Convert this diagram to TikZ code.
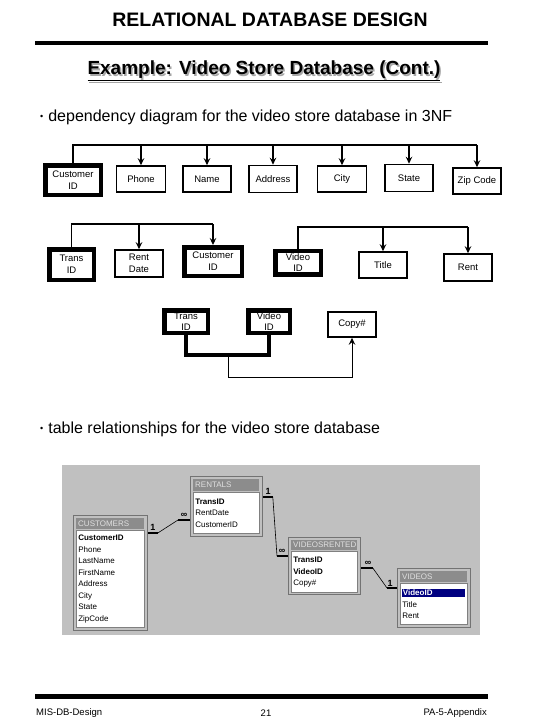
\documentclass[tikz,border=0pt]{standalone}
\usepackage{fontspec}
\setmainfont{Liberation Sans}
\usepackage{tikz}
\usetikzlibrary{arrows.meta,positioning}
\definecolor{panel}{HTML}{C0C0C0}
\definecolor{hdr}{HTML}{8C8C8C}
\definecolor{navy}{HTML}{000080}
\tikzset{
  attr/.style={draw, line width=1.6pt, minimum width=48pt, minimum height=26pt, inner sep=0pt, align=center, font=\fontsize{9.5}{12}\selectfont},
  keyattr/.style={attr, line width=4.5pt},
  tight/.style={font=\fontsize{9.5}{11}\selectfont},
  dep/.style={line width=1.6pt, -{Stealth[length=7pt,width=6.5pt,inset=2.5pt]}},
  bullet/.style={anchor=west, inner sep=0pt, font=\fontsize{16}{18}\selectfont},
  subtitle/.style={inner sep=0pt, font=\fontsize{19}{22}\selectfont\bfseries},
  foot/.style={inner sep=0pt, font=\fontsize{9.5}{11}\selectfont},
  tframe/.style={fill=panel, draw=black!55, line width=0.8pt, anchor=north west, inner sep=0pt},
  thead/.style={fill=hdr, text=black!12, anchor=north west, inner xsep=2pt, inner ysep=0pt, text width=#1, align=left, minimum height=11pt, font=\fontsize{8}{9}\selectfont},
  tbody/.style={fill=white, draw=black!50, line width=0.6pt, anchor=north west, inner xsep=2pt, inner ysep=0pt, text width=#1, align=left, font=\fontsize{8}{11.5}\selectfont},
  one/.style={line width=2pt},
  link/.style={line width=0.6pt},
  card/.style={inner sep=0pt, font=\fontsize{9}{9}\selectfont\bfseries}
}
\begin{document}
\begin{tikzpicture}[x=1pt,y=-1pt]
  \useasboundingbox (0,0) rectangle (540,720);

  \node[inner sep=0pt, font=\fontsize{19.5}{22}\selectfont\bfseries] (title) at (270,20) {RELATIONAL DATABASE DESIGN};
  \draw[line width=4pt] (35,43) -- (488,43);
  \node[subtitle, text=black!35] at (265.5,72.5) {\underline{Example: Video Store Database (Cont.)}};
  \node[subtitle] (sub) at (264,71) {\underline{Example: Video Store Database (Cont.)}};
  \node[bullet] (b1) at (40,117) {{\fontsize{9}{9}\selectfont\raisebox{2pt}{•}}\hspace{5pt}dependency diagram for the video store database in 3NF};

  \node[keyattr, minimum width=55.5pt, minimum height=29.5pt] (1) at (73,180) {Customer\\ID};
  \node[attr, minimum width=49pt] (2) at (141,179) {Phone};
  \node[attr] (3) at (207,179) {Name};
  \node[attr, minimum height=27pt] (4) at (273,179) {Address};
  \node[attr, minimum width=49pt] (5) at (342,179) {City};
  \node[attr, minimum height=27pt] (6) at (409,178) {State};
  \node[attr] (7) at (477,181) {Zip Code};

  \coordinate (top) at (0,145);
  \draw[line width=1.6pt] (1.north) |- (7.north |- top);
  \foreach \n in {2,...,7}
    \draw[dep] (\n.north |- top) -- (\n.north);

  \node[keyattr, minimum width=44.5pt, minimum height=30.5pt] (8) at (71.5,264.5) {Trans\\ID};
  \node[attr, minimum height=27pt] (9) at (139,263.5) {Rent\\Date};
  \node[keyattr, minimum width=57.5pt, minimum height=28.5pt] (10) at (213,261.5) {Customer\\ID};
  \node[keyattr, tight, minimum width=45.5pt, minimum height=23.5pt] (11) at (298,262.5) {Video\\ID};
  \node[attr] (12) at (383,265) {Title};
  \node[attr, minimum height=27pt] (13) at (468,267.5) {Rent};

  \coordinate (left) at (0,224);
  \coordinate (right) at (0,227);
  \draw[line width=1.6pt] (8.north) |- (10.north |- left);
  \foreach \n in {9,10}
    \draw[dep] (\n.north |- left) -- (\n.north);
  \draw[line width=1.6pt] (11.north) |- (13.north |- right);
  \foreach \n in {12,13}
    \draw[dep] (\n.north |- right) -- (\n.north);

  \node[keyattr, tight, minimum width=43.5pt, minimum height=22.5pt] (14) at (186,321.5) {Trans\\ID};
  \node[keyattr, tight, minimum width=41.5pt, minimum height=22.5pt] (15) at (269,321.5) {Video\\ID};
  \node[attr, minimum height=25pt] (16) at (352,324.5) {Copy\#};

  \coordinate (j) at (228,355);
  \draw[line width=4.5pt] (14.south) |- (j) -| (15.south);
  \draw[dep, line width=1pt] (j) -- ++(0,22) -| (16.south);

  \node[bullet] (b2) at (40,429) {{\fontsize{9}{9}\selectfont\raisebox{2pt}{•}}\hspace{5pt}table relationships for the video store database};

  \fill[panel] (62,465) rectangle (480,635);

  \node[tframe, minimum width=74pt, minimum height=115pt] (customers) at (73,515) {};
  \node[thead=64pt] (h1) at ([shift={(3,3)}]customers.north west) {CUSTOMERS};
  \node[tbody=64pt, minimum height=97pt] (l1) at ([shift={(0,1)}]h1.south west) {\textbf{CustomerID}\\Phone\\LastName\\FirstName\\Address\\City\\State\\ZipCode};

  \node[tframe, minimum width=72pt, minimum height=60pt] (rentals) at (190,476) {};
  \node[thead=62pt, minimum height=12pt] (h2) at ([shift={(3,3)}]rentals.north west) {RENTALS};
  \node[tbody=62pt, minimum height=41pt] (l2) at ([shift={(0,1)}]h2.south west) {\textbf{TransID}\\RentDate\\CustomerID};

  \node[tframe, minimum width=72pt, minimum height=57pt] (videosrented) at (288,537) {};
  \node[thead=62pt, minimum height=10pt] (h3) at ([shift={(3,3)}]videosrented.north west) {VIDEOSRENTED};
  \node[tbody=62pt, minimum height=41pt] (l3) at ([shift={(0,1)}]h3.south west) {\textbf{TransID}\\\textbf{VideoID}\\Copy\#};

  \node[tframe, minimum width=73pt, minimum height=59pt] (videos) at (397,568) {};
  \node[thead=63pt] (h4) at ([shift={(3,3)}]videos.north west) {VIDEOS};
  \node[tbody=63pt, minimum height=41pt] (l4) at ([shift={(0,1)}]h4.south west) {{\fboxsep=0.6pt\colorbox{navy}{\makebox[61pt][l]{\color{white}\textbf{VideoID}}}}\\Title\\Rent};

  \draw[one] (customers.east |- 0,533) -- ++(10,0) coordinate (r1);
  \draw[one] (rentals.west |- 0,520) -- ++(-12,0) coordinate (r2);
  \draw[link] (r1) -- (r2);
  \node[card] at (153,527) {1};
  \node[card] at (184,515) {∞};

  \draw[one] (rentals.east |- 0,497) -- ++(10,0) coordinate (r3);
  \draw[one] (videosrented.west |- 0,556) -- ++(-11,0) coordinate (r4);
  \draw[link] (r3) -- (r4);
  \node[card] at (268,491) {1};
  \node[card] at (282,551) {∞};

  \draw[one] (videosrented.east |- 0,568) -- ++(12,0) coordinate (r5);
  \draw[one] (videos.west |- 0,588) -- ++(-10,0) coordinate (r6);
  \draw[link] (r5) -- (r6);
  \node[card] at (368,563) {∞};
  \node[card] at (390,583) {1};

  \draw[line width=5pt] (35,696) -- (488,696);
  \node[foot, anchor=west] (f1) at (36,713) {MIS-DB-Design};
  \node[foot] (f2) at (266,713) {21};
  \node[foot, anchor=east] (f3) at (487,713) {PA-5-Appendix};
\end{tikzpicture}
\end{document}
